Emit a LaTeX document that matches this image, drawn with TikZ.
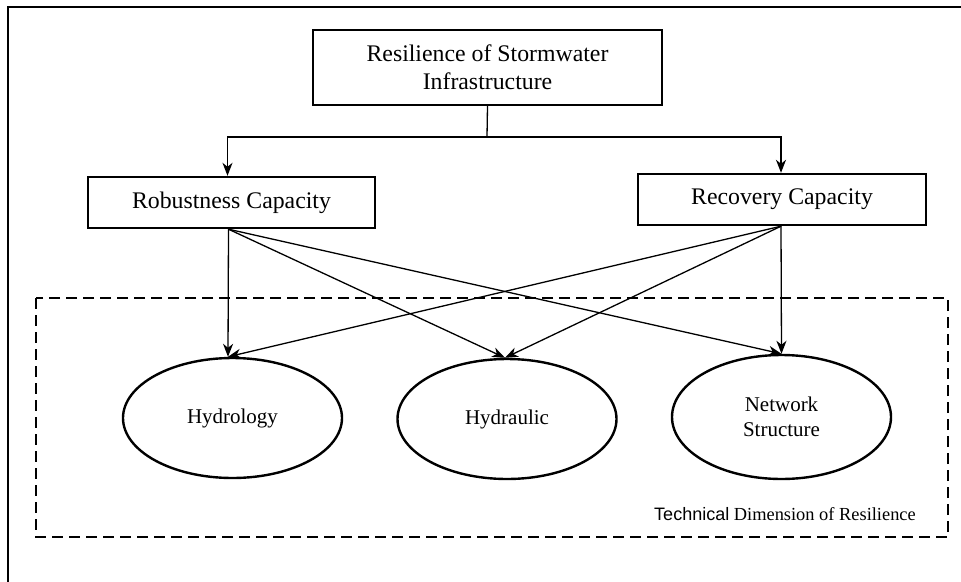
\documentclass[tikz,border=0pt]{standalone}
\usepackage{fontspec}
\setmainfont{Liberation Serif}
\newfontfamily\arialf{Liberation Sans}
\usetikzlibrary{shapes.geometric,arrows.meta}
\begin{document}
\begin{tikzpicture}[x=1pt,y=-1pt,
  boxnode/.style={draw,line width=2.4pt,rectangle,inner sep=0pt,align=center,font=\fontsize{23.8pt}{28pt}\selectfont},
  ovalnode/.style={draw,line width=2.4pt,ellipse,inner sep=0pt,align=center,font=\fontsize{21pt}{25pt}\selectfont},
  conn/.style={line width=1.3pt},
  arr/.style={conn,-{Stealth[length=13pt,width=10pt,inset=4pt]}},
  dashbox/.style={line width=2.4pt,dash pattern=on 11pt off 6pt}
]
\useasboundingbox (0,0) rectangle (961,581);
% outer frame (left and top edges visible)
\draw[line width=2.2pt] (8,590) -- (8,7) -- (970,7);
% dashed region
\draw[dashbox] (36,298) rectangle (948,537);
\node[anchor=base,font=\fontsize{18.4pt}{22pt}\selectfont] (tech) at (785,520) {{\arialf\fontsize{18pt}{22pt}\selectfont Technical} Dimension of Resilience};
% nodes
\node[boxnode,minimum width=349pt,minimum height=75pt] (top) at (487.5,67.5) {Resilience of Stormwater\\Infrastructure};
\node[boxnode,minimum width=287pt,minimum height=51pt] (rob) at (231.5,202.5) {Robustness Capacity};
\node[boxnode,minimum width=288pt,minimum height=51pt] (rec) at (782,199.5) {Recovery Capacity};
\node[ovalnode,minimum width=219pt,minimum height=120pt] (hyd) at (232.5,418) {Hydrology};
\node[ovalnode,minimum width=219pt,minimum height=120pt] (hyr) at (507,419) {Hydraulic};
\node[ovalnode,minimum width=219pt,minimum height=124pt] (net) at (781.5,417) {Network\\Structure};
% tree connector
\coordinate (j) at (487,137);
\draw[conn] (top.south) -- (j);
\draw[arr] (j) -| ([xshift=-4pt]rob.north);
\draw[arr] (j) -| ([xshift=-1pt]rec.north);
% cross connectors
\coordinate (rs) at ([xshift=-3pt]rob.south);
\coordinate (cs) at ([xshift=-1pt]rec.south);
\draw[arr] (rs) -- ([xshift=-4.5pt]hyd.north);
\draw[arr] (rs) -- ([xshift=-2pt]hyr.north);
\draw[arr] (rs) -- (net.north);
\draw[arr] (cs) -- (net.north);
\draw[arr] (cs) -- ([xshift=-2pt]hyr.north);
\draw[arr] (cs) -- ([xshift=-4.5pt]hyd.north);
\end{tikzpicture}
\end{document}
